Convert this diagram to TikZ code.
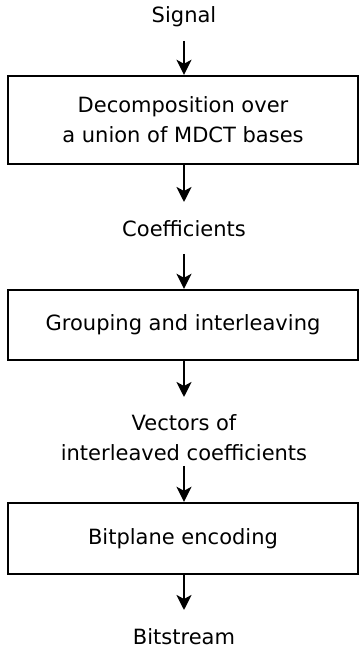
\documentclass[tikz,border=0pt]{standalone}
\usepackage{fontspec}
\setmainfont{DejaVu Sans}
\usetikzlibrary{arrows.meta}
\begin{document}
\begin{tikzpicture}[x=1pt,y=1pt,
  txt/.style={font=\fontsize{21}{30}\selectfont, align=center, inner sep=0pt},
  stage/.style={draw, line width=2.4pt, minimum width=350pt, inner sep=0pt, font=\fontsize{21}{30}\selectfont, align=center},
  flow/.style={line width=2.4pt, -{Stealth[length=15pt,width=15pt,inset=4pt]}}]
\useasboundingbox (0,0) rectangle (359,651);
\node[txt] (sig) at (184,634) {Signal};
\node[stage, minimum height=88pt] (b1) at (183,531) {Decomposition over\\a union of MDCT bases};
\node[txt] (coef) at (184,422) {Coefficients};
\node[stage, minimum height=70pt] (b2) at (183,326) {Grouping and interleaving};
\node[txt] (vec) at (184,213.5) {Vectors of\\interleaved coefficients};
\node[stage, minimum height=71pt] (b3) at (183,112.5) {Bitplane encoding};
\node[txt] (bits) at (184,14) {Bitstream};
\coordinate (a1s) at (184,610);
\coordinate (a3s) at (184,397);
\coordinate (a5s) at (184,185);
\coordinate (a2e) at (184,449);
\coordinate (a4e) at (184,254);
\coordinate (a6e) at (184,41);
\draw[flow] (a1s) -- (a1s |- b1.north);
\draw[flow] (a2e |- b1.south) -- (a2e);
\draw[flow] (a3s) -- (a3s |- b2.north);
\draw[flow] (a4e |- b2.south) -- (a4e);
\draw[flow] (a5s) -- (a5s |- b3.north);
\draw[flow] (a6e |- b3.south) -- (a6e);
\end{tikzpicture}
\end{document}
